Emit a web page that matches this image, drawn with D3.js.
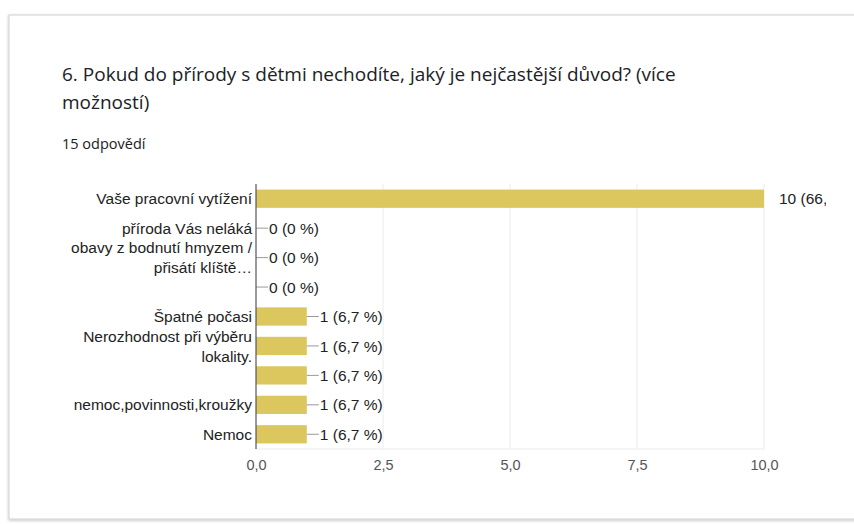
<!DOCTYPE html>
<html>
<head>
<meta charset="utf-8">
<script src="https://cdn.jsdelivr.net/npm/d3@7"></script>
<style>
  html, body { margin: 0; padding: 0; background: #ffffff; }
  svg { display: block; }
</style>
</head>
<body>
<svg id="chart" width="854" height="524"></svg>
<script>
// Survey question and response data
const titleLines = ["6. Pokud do přírody s dětmi nechodíte, jaký je nejčastější důvod? (více", "možností)"];
const responsesLabel = "15 odpovědí";
const categories = [
  ["Vaše pracovní vytížení"],
  ["příroda Vás neláká"],
  ["obavy z bodnutí hmyzem /", "přisátí klíště…"],
  [""],
  ["Špatné počasi"],
  ["Nerozhodnost při výběru", "lokality."],
  [""],
  ["nemoc,povinnosti,kroužky"],
  ["Nemoc"]
];
const counts = [10, 0, 0, 0, 1, 1, 1, 1, 1];
const valueLabels = ["10 (66,7 %)", "0 (0 %)", "0 (0 %)", "0 (0 %)", "1 (6,7 %)", "1 (6,7 %)", "1 (6,7 %)", "1 (6,7 %)", "1 (6,7 %)"];
const tickValues = [0, 2.5, 5, 7.5, 10];
const tickLabels = ["0,0", "2,5", "5,0", "7,5", "10,0"];

const svg = d3.select("#chart");

// Card with a soft shadow
const defs = svg.append("defs");
const shadow = defs.append("filter").attr("id", "cardShadow")
  .attr("x", "-5%").attr("y", "-5%").attr("width", "110%").attr("height", "110%");
shadow.append("feDropShadow").attr("dx", 0).attr("dy", 1).attr("stdDeviation", 1.5)
  .attr("flood-color", "#000").attr("flood-opacity", 0.25);
defs.append("clipPath").attr("id", "plotClip")
  .append("rect").attr("x", 0).attr("y", 0).attr("width", 826).attr("height", 524);

svg.append("rect")
  .attr("x", 9).attr("y", 15).attr("width", 900).attr("height", 504)
  .attr("fill", "#ffffff").attr("stroke", "#d0d0d0").attr("stroke-width", 1)
  .attr("filter", "url(#cardShadow)");

// Heading
const titleFont = "'Open Sans', sans-serif";
svg.append("g").selectAll("text").data(titleLines).join("text")
  .attr("x", 62).attr("y", (d, i) => 81 + i * 28)
  .attr("font-family", titleFont).attr("font-size", 19)
  .attr("fill", "#202124").text(d => d);

svg.append("text")
  .attr("x", 62).attr("y", 149)
  .attr("font-family", titleFont).attr("font-size", 14.5)
  .attr("fill", "#202124").text(responsesLabel);

// Plot
const x = d3.scaleLinear().domain([0, 10]).range([256, 764]);
const y = d3.scaleBand().domain(d3.range(categories.length)).range([184, 449]).paddingInner(0.38).paddingOuter(0.19);

const plot = svg.append("g").attr("clip-path", "url(#plotClip)");
const labelFont = "'Liberation Sans', Arial, sans-serif";
const labelSize = 15.5;

// Gridlines and bottom baseline
plot.append("g").selectAll("line").data(tickValues.slice(1)).join("line")
  .attr("x1", d => x(d)).attr("x2", d => x(d))
  .attr("y1", 184).attr("y2", 449)
  .attr("stroke", "#ebebeb").attr("stroke-width", 1);
plot.append("line")
  .attr("x1", 256).attr("x2", 764).attr("y1", 449).attr("y2", 449)
  .attr("stroke", "#ebebeb");

// Bars
plot.append("g").selectAll("rect").data(counts).join("rect")
  .attr("x", x(0)).attr("y", (d, i) => y(i))
  .attr("width", d => x(d) - x(0)).attr("height", y.bandwidth())
  .attr("fill", "#dbc75e");

// Leader lines and value labels
const ann = plot.append("g").selectAll("g").data(counts).join("g")
  .attr("transform", (d, i) => `translate(${x(d)},${y(i) + y.bandwidth() / 2})`);
ann.append("line")
  .attr("x1", 0).attr("x2", d => d === 10 ? 0 : 12)
  .attr("y1", 0).attr("y2", 0)
  .attr("stroke", "#999").attr("stroke-width", 1);
ann.append("text")
  .attr("x", d => d === 10 ? 15 : 13).attr("dy", "0.36em")
  .attr("font-family", labelFont).attr("font-size", labelSize)
  .attr("fill", "#222").text((d, i) => valueLabels[i]);

// Y axis line
svg.append("line")
  .attr("x1", 256).attr("x2", 256).attr("y1", 184).attr("y2", 449)
  .attr("stroke", "#555").attr("stroke-width", 1.2);

// Category labels (right aligned, wrapped over lines)
const cat = svg.append("g").selectAll("text").data(categories).join("text")
  .attr("text-anchor", "end")
  .attr("font-family", labelFont).attr("font-size", labelSize)
  .attr("fill", "#222")
  .attr("transform", (d, i) => `translate(252,${y(i) + y.bandwidth() / 2})`);
cat.selectAll("tspan").data(d => d.map((t, k) => ({ t, k, n: d.length }))).join("tspan")
  .attr("x", 0)
  .attr("y", d => (d.k - (d.n - 1) / 2) * 20)
  .attr("dy", "0.36em")
  .text(d => d.t);

// X axis tick labels
const xAxis = d3.axisBottom(x).tickValues(tickValues)
  .tickFormat((d, i) => tickLabels[i]).tickSize(0).tickPadding(0);
const gx = svg.append("g").attr("transform", "translate(0,460)").call(xAxis);
gx.select(".domain").remove();
gx.selectAll("text")
  .attr("font-family", labelFont).attr("font-size", 14.5)
  .attr("fill", "#555");
</script>
</body>
</html>
